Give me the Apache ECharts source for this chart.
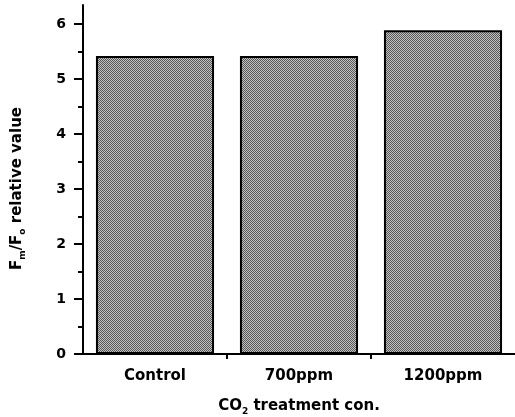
<!DOCTYPE html>
<html>
<head>
<meta charset="utf-8">
<script src="https://cdn.jsdelivr.net/npm/echarts@6/dist/echarts.min.js"></script>
<style>
  html, body { margin: 0; padding: 0; background: #fff; }
  #main { width: 515px; height: 417px; }
</style>
</head>
<body>
<div id="main"></div>
<script>
// data
let categories = ['Control', '700ppm', '1200ppm'];
let fmFoValues = [5.42, 5.42, 5.89];
let yTicks = [0, 1, 2, 3, 4, 5, 6];
let yMinorTicks = [0.5, 1.5, 2.5, 3.5, 4.5, 5.5];

// stippled grey fill like the scanned figure
let pat = document.createElement('canvas');
pat.width = 4;
pat.height = 4;
let pctx = pat.getContext('2d');
pctx.fillStyle = '#c4c4c4';
pctx.fillRect(0, 0, 4, 4);
pctx.fillStyle = '#555';
[[0, 0], [2, 0], [1, 1], [3, 1], [0, 2], [2, 2], [1, 3], [3, 3]].forEach(function (p) {
    pctx.fillRect(p[0], p[1], 1, 1);
});

let font = 'DejaVu Sans';
let myChart = echarts.init(document.getElementById('main'));

let options = {
    animation: false,
    grid: {
        left: 83,
        right: 0,
        top: 5,
        bottom: 63,
        outerBoundsMode: 'none'
    },
    xAxis: [
        {
            type: 'category',
            data: categories,
            name: 'CO{sub|2} treatment con.',
            nameLocation: 'middle',
            nameGap: 43,
            nameTextStyle: {
                fontFamily: font,
                fontWeight: 'bold',
                fontSize: 15,
                color: '#000',
                rich: {
                    sub: { fontFamily: font, fontWeight: 'bold', fontSize: 9, color: '#000', padding: [10, 0, 0, 0] }
                }
            },
            axisLine: { lineStyle: { color: '#000', width: 2 } },
            axisTick: { alignWithLabel: true, length: 8, lineStyle: { color: '#000', width: 2 } },
            axisLabel: {
                fontFamily: font,
                fontWeight: 'bold',
                fontSize: 15,
                color: '#000',
                margin: 15
            }
        },
        {
            type: 'value',
            position: 'bottom',
            min: 0,
            max: 3,
            axisLine: { show: false },
            axisLabel: { show: false },
            splitLine: { show: false },
            axisTick: { show: true, length: 5, customValues: [1, 2], lineStyle: { color: '#000', width: 2 } }
        }
    ],
    yAxis: [
        {
            type: 'value',
            min: 0,
            max: 6.35,
            interval: 1,
            name: 'F{sub|m}/F{sub|o} relative value',
            nameLocation: 'middle',
            nameGap: 56,
            nameTextStyle: {
                fontFamily: font,
                fontWeight: 'bold',
                fontSize: 15,
                color: '#000',
                padding: [0, 18, 0, 0],
                rich: {
                    sub: { fontFamily: font, fontWeight: 'bold', fontSize: 9, color: '#000', padding: [10, 0, 0, 0] }
                }
            },
            splitLine: { show: false },
            axisLine: { show: true, lineStyle: { color: '#000', width: 2 } },
            axisTick: { show: true, length: 9, customValues: yTicks, lineStyle: { color: '#000', width: 2 } },
            axisLabel: {
                customValues: yTicks,
                fontFamily: font,
                fontWeight: 'bold',
                fontSize: 14,
                color: '#000',
                margin: 17
            }
        },
        {
            type: 'value',
            position: 'left',
            min: 0,
            max: 6.35,
            axisLine: { show: false },
            axisLabel: { show: false },
            splitLine: { show: false },
            axisTick: { show: true, length: 5, customValues: yMinorTicks, lineStyle: { color: '#000', width: 2 } }
        }
    ],
    series: [
        {
            type: 'bar',
            data: fmFoValues,
            barCategoryGap: '18%',
            itemStyle: {
                color: { image: pat, repeat: 'repeat' },
                borderColor: '#000',
                borderWidth: 2
            }
        }
    ]
};
myChart.setOption(options);
</script>
</body>
</html>
